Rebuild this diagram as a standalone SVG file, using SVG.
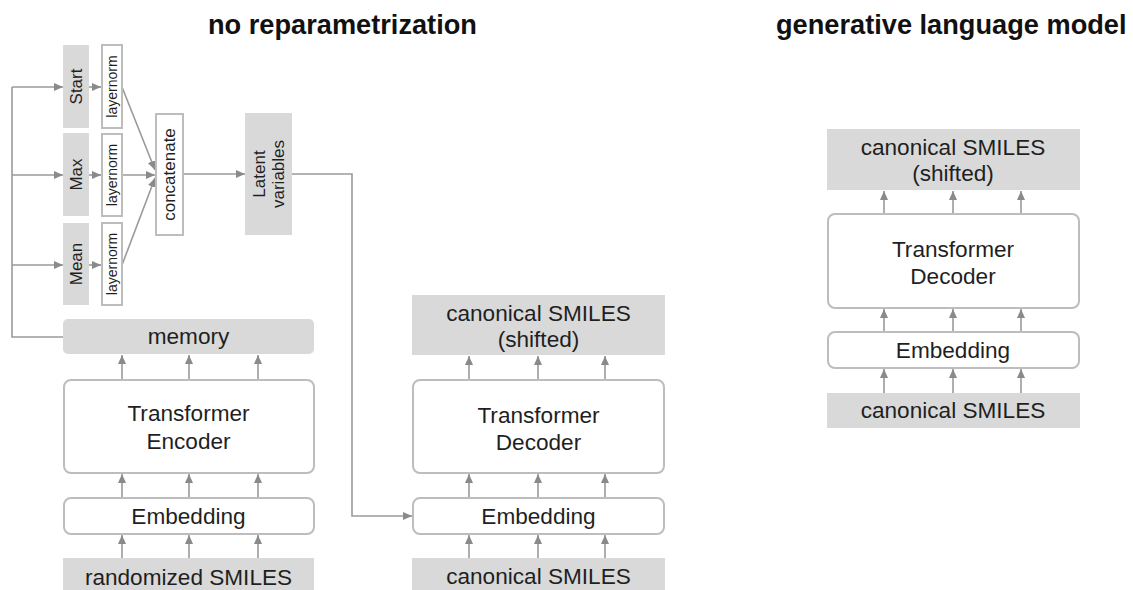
<svg xmlns="http://www.w3.org/2000/svg" width="1133" height="590" viewBox="0 0 1133 590">
<defs>
<marker id="ah" markerUnits="userSpaceOnUse" markerWidth="9" markerHeight="8" refX="9" refY="4" orient="auto">
<path d="M0,0 L9,4 L0,8 z" fill="#8a8a8a"/>
</marker>
<style>
.g{fill:#d9d9d9;stroke:none}
.w{fill:#ffffff;stroke:#bdbdbd;stroke-width:2}
.t{font-family:"Liberation Sans",Arial,sans-serif;fill:#1f1f1f;text-anchor:middle}
.big{font-size:22.6px}
.rot{font-size:17px}
.ln{font-size:14px}
.title{font-family:"Liberation Sans",Arial,sans-serif;font-weight:bold;font-size:27.2px;fill:#111}
.c{fill:none;stroke:#9a9a9a;stroke-width:1.6}
.a{fill:none;stroke:#9a9a9a;stroke-width:1.6;marker-end:url(#ah)}
</style>
</defs>
<rect width="1133" height="590" fill="#ffffff"/>
<text class="title" x="208" y="34">no reparametrization</text>
<text class="title" x="776" y="34">generative language model</text>

<g id="connectors">
<polyline class="c" points="63,337 12,337 12,87"/>
<line class="a" x1="12" y1="87" x2="63" y2="87"/>
<line class="a" x1="12" y1="175" x2="63" y2="175"/>
<line class="a" x1="12" y1="265" x2="63" y2="265"/>
<line class="a" x1="89" y1="87" x2="101" y2="87"/>
<line class="a" x1="89" y1="175" x2="101" y2="175"/>
<line class="a" x1="89" y1="265" x2="101" y2="265"/>
<line class="a" x1="122" y1="87" x2="155" y2="170"/>
<line class="a" x1="122" y1="175" x2="155" y2="175"/>
<line class="a" x1="122" y1="265" x2="155" y2="178"/>
<line class="a" x1="183" y1="174" x2="245" y2="174"/>
<polyline class="a" points="292,174 352,174 352,516 412,516"/>
<line class="a" x1="122" y1="379" x2="122" y2="355"/>
<line class="a" x1="189" y1="379" x2="189" y2="355"/>
<line class="a" x1="258" y1="379" x2="258" y2="355"/>
<line class="a" x1="122" y1="498" x2="122" y2="474"/>
<line class="a" x1="189" y1="498" x2="189" y2="474"/>
<line class="a" x1="258" y1="498" x2="258" y2="474"/>
<line class="a" x1="122" y1="558" x2="122" y2="535"/>
<line class="a" x1="189" y1="558" x2="189" y2="535"/>
<line class="a" x1="258" y1="558" x2="258" y2="535"/>
<line class="a" x1="469" y1="380" x2="469" y2="356"/>
<line class="a" x1="538" y1="380" x2="538" y2="356"/>
<line class="a" x1="605" y1="380" x2="605" y2="356"/>
<line class="a" x1="469" y1="498" x2="469" y2="474"/>
<line class="a" x1="538" y1="498" x2="538" y2="474"/>
<line class="a" x1="605" y1="498" x2="605" y2="474"/>
<line class="a" x1="469" y1="558" x2="469" y2="535"/>
<line class="a" x1="538" y1="558" x2="538" y2="535"/>
<line class="a" x1="605" y1="558" x2="605" y2="535"/>
<line class="a" x1="884" y1="214" x2="884" y2="191"/>
<line class="a" x1="953" y1="214" x2="953" y2="191"/>
<line class="a" x1="1021" y1="214" x2="1021" y2="191"/>
<line class="a" x1="884" y1="332" x2="884" y2="309"/>
<line class="a" x1="953" y1="332" x2="953" y2="309"/>
<line class="a" x1="1021" y1="332" x2="1021" y2="309"/>
<line class="a" x1="884" y1="393" x2="884" y2="369"/>
<line class="a" x1="953" y1="393" x2="953" y2="369"/>
<line class="a" x1="1021" y1="393" x2="1021" y2="369"/>
</g>

<g id="start">
<rect class="g" x="63" y="45" width="26" height="83"/>
<text class="t rot" transform="translate(76,86.5) rotate(-90)" dy="0.35em">Start</text>
</g>
<g id="max">
<rect class="g" x="63" y="133" width="26" height="83"/>
<text class="t rot" transform="translate(76,174.5) rotate(-90)" dy="0.35em">Max</text>
</g>
<g id="mean">
<rect class="g" x="63" y="223" width="26" height="82"/>
<text class="t rot" transform="translate(76,264) rotate(-90)" dy="0.35em">Mean</text>
</g>
<g id="layernorm-start">
<rect class="w" x="102" y="45" width="20" height="83"/>
<text class="t ln" transform="translate(112,86.5) rotate(-90)" dy="0.35em">layernorm</text>
</g>
<g id="layernorm-max">
<rect class="w" x="102" y="134" width="20" height="82"/>
<text class="t ln" transform="translate(112,175) rotate(-90)" dy="0.35em">layernorm</text>
</g>
<g id="layernorm-mean">
<rect class="w" x="102" y="223" width="20" height="82"/>
<text class="t ln" transform="translate(112,264) rotate(-90)" dy="0.35em">layernorm</text>
</g>
<g id="concatenate">
<rect class="w" x="156" y="114" width="27" height="121"/>
<text class="t rot" transform="translate(169.5,174.5) rotate(-90)" dy="0.35em">concatenate</text>
</g>
<g id="latent">
<rect class="g" x="245" y="113" width="47" height="122"/>
<text class="t rot" transform="translate(268.5,174) rotate(-90)"><tspan x="0" y="-9.5" dy="0.35em">Latent</tspan><tspan x="0" y="9.5" dy="0.35em">variables</tspan></text>
</g>

<g id="memory">
<rect class="g" x="63" y="319" width="251" height="35" rx="5"/>
<text class="t big" x="188.5" y="344">memory</text>
</g>
<g id="encoder">
<rect class="w" x="64" y="380" width="250" height="93" rx="7"/>
<text class="t big" x="188.5" y="421">Transformer</text>
<text class="t big" x="188.5" y="449">Encoder</text>
</g>
<g id="embedding-enc">
<rect class="w" x="64" y="498" width="250" height="36" rx="7"/>
<text class="t big" x="188.5" y="524">Embedding</text>
</g>
<g id="randomized">
<rect class="g" x="63" y="558" width="251" height="40"/>
<text class="t big" x="188.5" y="585">randomized SMILES</text>
</g>

<g id="shifted-mid">
<rect class="g" x="412" y="295" width="253" height="60"/>
<text class="t big" x="538.5" y="321">canonical SMILES</text>
<text class="t big" x="538.5" y="347">(shifted)</text>
</g>
<g id="decoder-mid">
<rect class="w" x="413" y="380" width="251" height="93" rx="7"/>
<text class="t big" x="538.5" y="423">Transformer</text>
<text class="t big" x="538.5" y="450">Decoder</text>
</g>
<g id="embedding-mid">
<rect class="w" x="413" y="498" width="251" height="36" rx="7"/>
<text class="t big" x="538.5" y="524">Embedding</text>
</g>
<g id="canonical-mid">
<rect class="g" x="412" y="558" width="253" height="40"/>
<text class="t big" x="538.5" y="584">canonical SMILES</text>
</g>

<g id="shifted-right">
<rect class="g" x="827" y="129" width="253" height="61"/>
<text class="t big" x="953" y="155">canonical SMILES</text>
<text class="t big" x="953" y="181">(shifted)</text>
</g>
<g id="decoder-right">
<rect class="w" x="828" y="214" width="251" height="94" rx="7"/>
<text class="t big" x="953" y="257">Transformer</text>
<text class="t big" x="953" y="284">Decoder</text>
</g>
<g id="embedding-right">
<rect class="w" x="828" y="332" width="251" height="36" rx="7"/>
<text class="t big" x="953" y="358">Embedding</text>
</g>
<g id="canonical-right">
<rect class="g" x="827" y="393" width="253" height="35"/>
<text class="t big" x="953" y="418">canonical SMILES</text>
</g>
</svg>
